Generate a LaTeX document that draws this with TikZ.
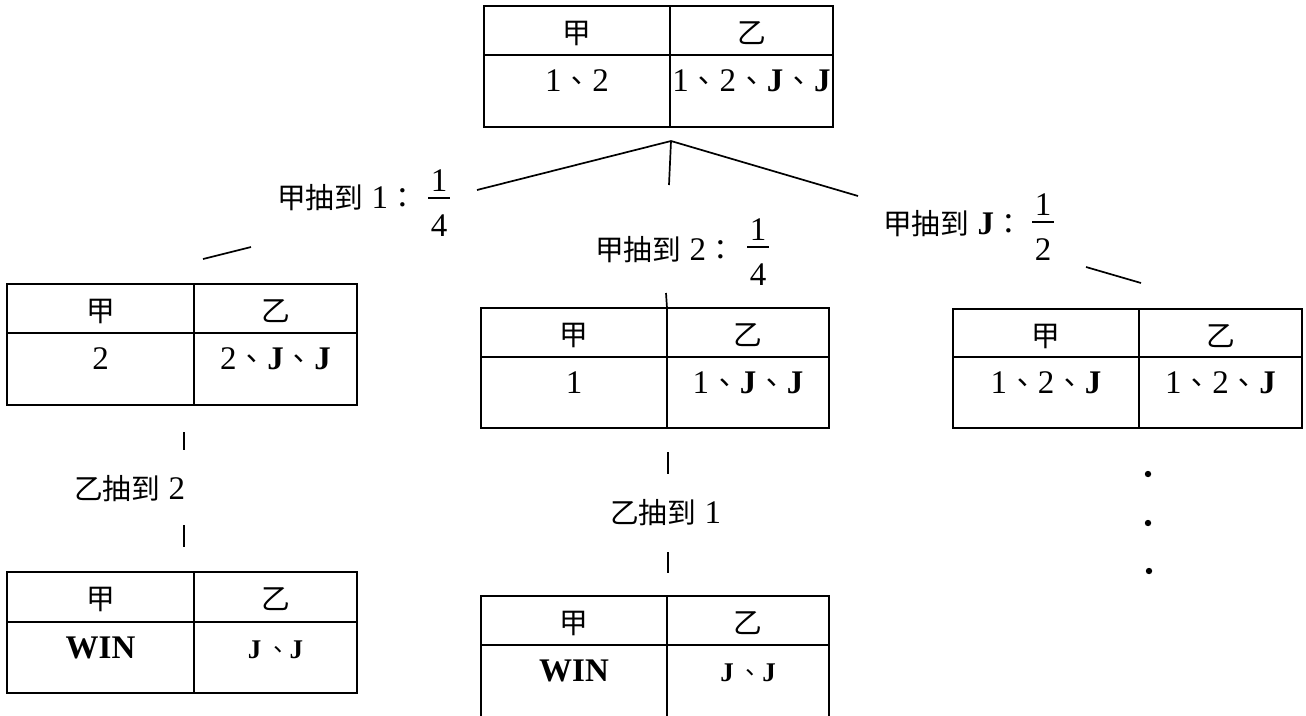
\documentclass[tikz,border=0pt]{standalone}
\usepackage{fontspec}
\setmainfont{Liberation Serif}
\newfontfamily\cjkfont{Noto Sans CJK TC}[Scale=0.87]
\newcommand\zh[1]{{\cjkfont #1}}
\newcommand\sepmark{\kern1pt\zh{、}\kern1pt}
\newcommand\smalljj{{\fontsize{27}{31}\selectfont\textbf{J}\kern5pt\zh{、}\textbf{J}}}

% state table: name, x-left, x-divider, x-right, y-top, y-middle, y-bottom, left cell, right cell
\newcommand\statetable[9]{%
  \draw[tablebox] (#2,#5) rectangle (#4,#7);
  \draw[tablebox] (#2,#6) -- (#4,#6) (#3,#5) -- (#3,#7);
  \node[cell] (#1-ha) at ({(#2+#3)/2},{#5+37}) {\zh{甲}};
  \node[cell] (#1-hb) at ({(#3+#4)/2},{#5+37}) {\zh{乙}};
  \node[cell] (#1-a) at ({(#2+#3)/2},{#6+36}) {#8};
  \node[cell] (#1-b) at ({(#3+#4)/2},{#6+36}) {#9};
  \coordinate (#1-top) at (#3,#5);
}

% stacked fraction: name, x-centre, y of the bar, numerator, denominator
\newcommand\probfrac[5]{%
  \node[cell] (#1-n) at (#2,{#3-7}) {#4};
  \node[cell] (#1-d) at (#2,{#3+38}) {#5};
  \draw[fracbar] ([xshift=-11pt,yshift=-7pt]#1-n.base) -- ([xshift=11pt,yshift=-7pt]#1-n.base);
}

\begin{document}
\begin{tikzpicture}[x=1pt,y=-1pt,
  tablebox/.style={line width=2.4pt},
  branch/.style={line width=1.7pt},
  fracbar/.style={line width=1.4pt},
  cell/.style={anchor=base,inner sep=0pt},
  lab/.style={anchor=base west,inner sep=0pt},
  every node/.append style={font=\fontsize{33}{39}\selectfont}]
\useasboundingbox (0,0) rectangle (1306,715);

% tables
\statetable{t0}{484}{670}{833}{6}{55}{127}{1\sepmark 2}{1\sepmark 2\sepmark\textbf{J}\sepmark\textbf{J}}
\statetable{t1}{7}{194}{357}{284}{333}{405}{2}{2\sepmark\textbf{J}\sepmark\textbf{J}}
\statetable{t2}{481}{667}{829}{308}{357}{428}{1}{1\sepmark\textbf{J}\sepmark\textbf{J}}
\statetable{t3}{953}{1139}{1302}{309}{357}{428}{1\sepmark 2\sepmark\textbf{J}}{1\sepmark 2\sepmark\textbf{J}}
\statetable{t4}{7}{194}{357}{572}{622}{693}{\textbf{WIN}}{\smalljj}
\statetable{t5}{481}{667}{829}{596}{645}{730}{\textbf{WIN}}{\smalljj}

% branch end points
\coordinate (root) at (671,141);
\coordinate (b1a) at (477,190);
\coordinate (b2a) at (669,185);
\coordinate (b3a) at (858,196);
\coordinate (b1b) at (251,247);
\coordinate (b1c) at (203,259);
\coordinate (b2b) at (666,293);
\coordinate (b3b) at (1086,267);
\coordinate (b3c) at (1141,283);
\coordinate (d1a) at (184,432);
\coordinate (d1b) at (184,450);
\coordinate (d1c) at (184,525);
\coordinate (d1d) at (184,547);
\coordinate (d2a) at (668,452);
\coordinate (d2b) at (668,474);
\coordinate (d2c) at (668,552);
\coordinate (d2d) at (668,573);

\draw[branch] (root) -- (b1a);
\draw[branch] (root) -- (b2a);
\draw[branch] (root) -- (b3a);
\draw[branch] (b1b) -- (b1c);
\draw[branch] (b2b) -- (t2-top);
\draw[branch] (b3b) -- (b3c);
\draw[branch] (d1a) -- (d1b);
\draw[branch] (d1c) -- (d1d);
\draw[branch] (d2a) -- (d2b);
\draw[branch] (d2c) -- (d2d);

% branch labels
\node[lab] (l1) at (277,208) {\zh{甲抽到}~1\zh{：}};
\probfrac{f1}{439}{198}{1}{4}
\node[lab] (l2) at (595,260) {\zh{甲抽到}~2\zh{：}};
\probfrac{f2}{758}{247}{1}{4}
\node[lab] (l3) at (883,234) {\zh{甲抽到}~\textbf{J}\zh{：}};
\probfrac{f3}{1043}{222}{1}{2}
\node[lab] (l4) at (74,499) {\zh{乙抽到}~2};
\node[lab] (l5) at (610,523) {\zh{乙抽到}~1};

% continuation dots
\fill (1148,474) circle (3.2pt);
\fill (1148,523) circle (3.2pt);
\fill (1149,571) circle (3.2pt);
\end{tikzpicture}
\end{document}
